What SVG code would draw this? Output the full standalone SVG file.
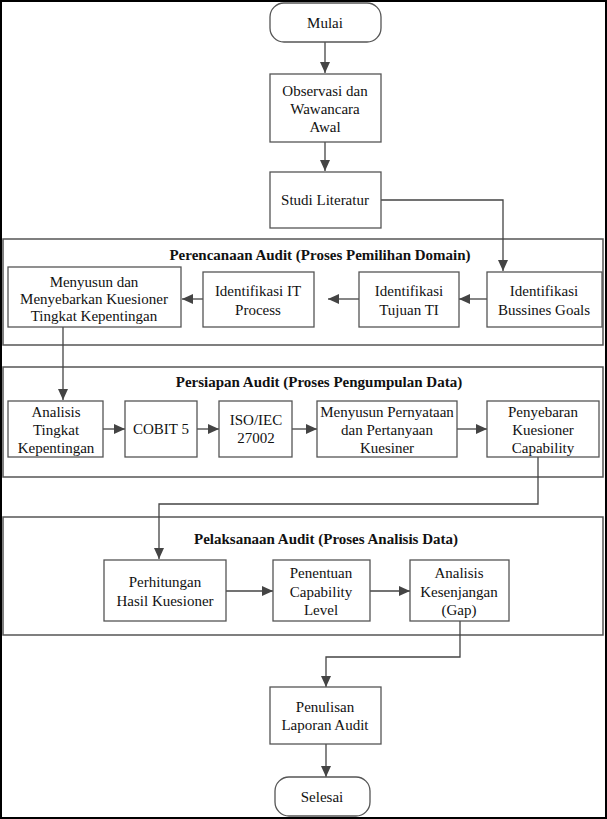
<svg xmlns="http://www.w3.org/2000/svg" width="607" height="819" viewBox="0 0 607 819">
<style>
.bg{fill:#fff}
.box{fill:#fff;stroke:#555;stroke-width:1.3}
.panel{fill:#fff;stroke:#555;stroke-width:1.5}
.t{font-family:"Liberation Serif","Times New Roman",serif;font-size:15px;fill:#111;text-anchor:middle}
.h{font-family:"Liberation Serif","Times New Roman",serif;font-size:15px;font-weight:bold;fill:#111;text-anchor:middle}
.c{fill:none;stroke:#444;stroke-width:1.3}
</style>
<defs>
<marker id="ah" markerUnits="userSpaceOnUse" markerWidth="12" markerHeight="10" refX="11" refY="5" orient="auto">
<path d="M0,0 L11,5 L0,10 z" fill="#444"/>
</marker>
</defs>
<rect class="bg" x="0" y="0" width="607" height="819"/>
<rect x="1" y="1" width="605" height="817" fill="none" stroke="#000" stroke-width="2"/>

<g id="panel-perencanaan">
<rect class="panel" x="3" y="239" width="600" height="106"/>
<text class="h" x="320" y="260">Perencanaan Audit (Proses Pemilihan Domain)</text>
</g>
<g id="panel-persiapan">
<rect class="panel" x="3" y="367" width="600" height="110"/>
<text class="h" x="319" y="387">Persiapan Audit (Proses Pengumpulan Data)</text>
</g>
<g id="panel-pelaksanaan">
<rect class="panel" x="3" y="517" width="600" height="118"/>
<text class="h" x="326" y="544">Pelaksanaan Audit (Proses Analisis Data)</text>
</g>

<g id="connectors">
<path class="c" d="M325,42 V73" marker-end="url(#ah)"/>
<path class="c" d="M325,142 V171" marker-end="url(#ah)"/>
<path class="c" d="M381,200 H503 V271" marker-end="url(#ah)"/>
<path class="c" d="M487,299 H459" marker-end="url(#ah)"/>
<path class="c" d="M359,299 H328" marker-end="url(#ah)"/>
<path class="c" d="M203,299 H182" marker-end="url(#ah)"/>
<path class="c" d="M63,327 V400" marker-end="url(#ah)"/>
<path class="c" d="M103,429 H125" marker-end="url(#ah)"/>
<path class="c" d="M197,429 H219" marker-end="url(#ah)"/>
<path class="c" d="M292,429 H317" marker-end="url(#ah)"/>
<path class="c" d="M457,429 H487" marker-end="url(#ah)"/>
<path class="c" d="M538,457 V504 H159 V559" marker-end="url(#ah)"/>
<path class="c" d="M226,591 H273" marker-end="url(#ah)"/>
<path class="c" d="M370,591 H410" marker-end="url(#ah)"/>
<path class="c" d="M460,621 V657 H326 V687" marker-end="url(#ah)"/>
<path class="c" d="M326,744 V777" marker-end="url(#ah)"/>
</g>

<g id="mulai">
<rect class="box" x="270" y="3" width="111" height="39" rx="14"/>
<text class="t" x="325" y="28">Mulai</text>
</g>
<g id="observasi">
<rect class="box" x="270" y="74" width="111" height="68"/>
<text class="t" x="325" y="96">Observasi dan</text>
<text class="t" x="325" y="114">Wawancara</text>
<text class="t" x="325" y="132">Awal</text>
</g>
<g id="studi">
<rect class="box" x="270" y="172" width="111" height="56"/>
<text class="t" x="325" y="205">Studi Literatur</text>
</g>

<g id="menyusun-kuesioner">
<rect class="box" x="8" y="267" width="173" height="60"/>
<text class="t" x="94" y="287">Menyusun dan</text>
<text class="t" x="94" y="304">Menyebarkan Kuesioner</text>
<text class="t" x="94" y="321">Tingkat Kepentingan</text>
</g>
<g id="identifikasi-it">
<rect class="box" x="203" y="272" width="111" height="55"/>
<text class="t" x="258" y="296">Identifikasi IT</text>
<text class="t" x="258" y="315">Process</text>
</g>
<g id="identifikasi-tujuan">
<rect class="box" x="359" y="272" width="100" height="55"/>
<text class="t" x="409" y="296">Identifikasi</text>
<text class="t" x="409" y="315">Tujuan TI</text>
</g>
<g id="identifikasi-bussines">
<rect class="box" x="487" y="272" width="115" height="55"/>
<text class="t" x="544" y="296">Identifikasi</text>
<text class="t" x="544" y="315">Bussines Goals</text>
</g>

<g id="analisis-tingkat">
<rect class="box" x="8" y="401" width="95" height="56"/>
<text class="t" x="56" y="417">Analisis</text>
<text class="t" x="56" y="435">Tingkat</text>
<text class="t" x="56" y="453">Kepentingan</text>
</g>
<g id="cobit">
<rect class="box" x="125" y="401" width="72" height="56"/>
<text class="t" x="161" y="434">COBIT 5</text>
</g>
<g id="iso">
<rect class="box" x="219" y="401" width="73" height="56"/>
<text class="t" x="256" y="425">ISO/IEC</text>
<text class="t" x="256" y="443">27002</text>
</g>
<g id="menyusun-pernyataan">
<rect class="box" x="317" y="401" width="140" height="56"/>
<text class="t" x="387" y="417">Menyusun Pernyataan</text>
<text class="t" x="387" y="435">dan Pertanyaan</text>
<text class="t" x="387" y="453">Kuesiner</text>
</g>
<g id="penyebaran">
<rect class="box" x="487" y="401" width="112" height="56"/>
<text class="t" x="543" y="417">Penyebaran</text>
<text class="t" x="543" y="435">Kuesioner</text>
<text class="t" x="543" y="453">Capability</text>
</g>

<g id="perhitungan">
<rect class="box" x="104" y="560" width="122" height="61"/>
<text class="t" x="165" y="587">Perhitungan</text>
<text class="t" x="165" y="606">Hasil Kuesioner</text>
</g>
<g id="penentuan">
<rect class="box" x="273" y="560" width="97" height="61"/>
<text class="t" x="321" y="578">Penentuan</text>
<text class="t" x="321" y="597">Capability</text>
<text class="t" x="321" y="615">Level</text>
</g>
<g id="analisis-kesenjangan">
<rect class="box" x="410" y="560" width="99" height="61"/>
<text class="t" x="459" y="578">Analisis</text>
<text class="t" x="459" y="597">Kesenjangan</text>
<text class="t" x="459" y="615">(Gap)</text>
</g>

<g id="penulisan">
<rect class="box" x="270" y="687" width="111" height="57"/>
<text class="t" x="325" y="712">Penulisan</text>
<text class="t" x="325" y="730">Laporan Audit</text>
</g>
<g id="selesai">
<rect class="box" x="275" y="777" width="95" height="39" rx="14"/>
<text class="t" x="322" y="802">Selesai</text>
</g>
</svg>
